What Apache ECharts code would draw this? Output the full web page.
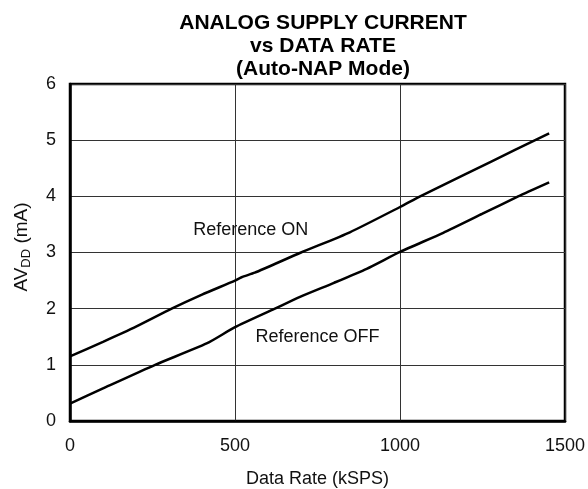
<!DOCTYPE html>
<html>
<head>
<meta charset="utf-8">
<script src="https://cdn.jsdelivr.net/npm/echarts@6/dist/echarts.min.js"></script>
<style>html,body{margin:0;padding:0;background:#fff}#c{width:588px;height:489px}</style>
</head>
<body>
<div id="c"></div>
<script>
const titleLines = ['ANALOG SUPPLY CURRENT', 'vs DATA RATE', '(Auto-NAP Mode)'];
const xTicks = [0, 500, 1000, 1500];
const yTicks = [0, 1, 2, 3, 4, 5, 6];
const refOnX = [0, 100, 200, 308, 400, 500, 520, 560, 700, 848, 1000, 1061, 1200, 1350, 1452];
const refOnY = [1.15, 1.41, 1.68, 2.0, 2.25, 2.5, 2.56, 2.64, 3.0, 3.36, 3.81, 4.0, 4.40, 4.83, 5.12];
const refOffX = [0, 100, 258, 414, 500, 621, 697, 800, 899, 1000, 1131, 1250, 1358, 1452];
const refOffY = [0.31, 0.58, 1.0, 1.38, 1.67, 2.0, 2.21, 2.46, 2.71, 3.01, 3.35, 3.69, 4.0, 4.25];
const seriesNames = ['Reference ON', 'Reference OFF'];
const labelAt = [[548, 3.40], [750, 1.50]];

const FONT = '"Liberation Sans", Arial, Helvetica, sans-serif';
const chart = echarts.init(document.getElementById('c'), null, {renderer: 'canvas'});
const zip = (xs, ys) => xs.map((x, i) => [x, ys[i]]);
chart.setOption({
  animation: false,
  backgroundColor: '#fff',
  grid: {left: 70, right: 23, top: 84, bottom: 68, show: true, borderColor: '#000', borderWidth: 2.5,
         containLabel: false, outerBoundsMode: 'none'},
  xAxis: {
    type: 'value', min: xTicks[0], max: xTicks[xTicks.length - 1], interval: 500,
    name: 'Data Rate (kSPS)', nameLocation: 'middle', nameGap: 49,
    nameTextStyle: {fontFamily: FONT, fontSize: 18, color: '#111'},
    axisLine: {lineStyle: {color: '#000', width: 2.5}},
    axisTick: {show: false},
    axisLabel: {fontFamily: FONT, fontSize: 18, color: '#111', margin: 16, formatter: v => String(v)},
    splitLine: {show: true, lineStyle: {color: '#333', width: 1}}
  },
  yAxis: {
    type: 'value', min: yTicks[0], max: yTicks[yTicks.length - 1], interval: 1,
    name: '{a|AV}{s|DD}{a| (mA)}', nameLocation: 'middle', nameGap: 37, nameRotate: 90,
    nameTextStyle: {
      fontFamily: FONT, fontSize: 19, color: '#111', padding: [0, 0, 0, 11],
      rich: {
        a: {fontFamily: FONT, fontSize: 19, color: '#111', lineHeight: 22},
        s: {fontFamily: FONT, fontSize: 13, color: '#111', lineHeight: 22, verticalAlign: 'bottom', padding: [9, 0, 0, 0]}
      }
    },
    axisLine: {lineStyle: {color: '#000', width: 2.5}},
    axisTick: {show: false},
    axisLabel: {fontFamily: FONT, fontSize: 18, color: '#111', margin: 14},
    splitLine: {show: true, lineStyle: {color: '#333', width: 1}}
  },
  series: [
    {name: seriesNames[0], type: 'line', data: zip(refOnX, refOnY), symbol: 'none', smooth: 0.2,
     lineStyle: {color: '#000', width: 2.5}},
    {name: seriesNames[1], type: 'line', data: zip(refOffX, refOffY), symbol: 'none', smooth: 0.2,
     lineStyle: {color: '#000', width: 2.5}}
  ]
});
const p0 = chart.convertToPixel({gridIndex: 0}, labelAt[0]);
const p1 = chart.convertToPixel({gridIndex: 0}, labelAt[1]);
chart.setOption({
  graphic: [
    {type: 'text', x: 323, y: 12, z: 10, style: {text: titleLines.join('\n'), font: 'bold 21px ' + FONT, lineHeight: 23, fill: '#000', align: 'center', verticalAlign: 'top'}},
    {type: 'text', x: p0[0], y: p0[1], z: 10, style: {text: seriesNames[0], font: '18px ' + FONT, fill: '#111', align: 'center', verticalAlign: 'middle'}},
    {type: 'text', x: p1[0], y: p1[1], z: 10, style: {text: seriesNames[1], font: '18px ' + FONT, fill: '#111', align: 'center', verticalAlign: 'middle'}}
  ]
});
</script>
</body>
</html>
